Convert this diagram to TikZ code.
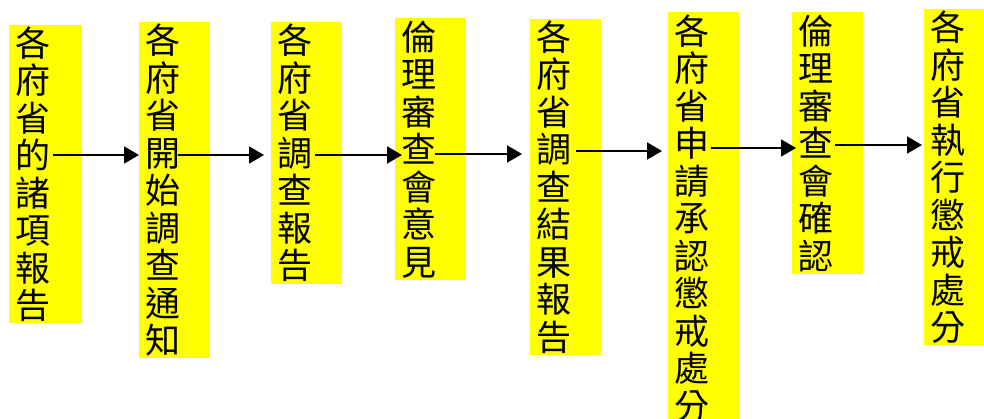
\documentclass[tikz,border=0pt]{standalone}
\usepackage{fontspec}
\newfontfamily\cjk{Noto Sans CJK TC}
\usetikzlibrary{arrows.meta}
\begin{document}
\begin{tikzpicture}[x=1pt,y=-1pt,
  box/.style={fill={rgb,255:red,255;green,255;blue,0}, anchor=north west, inner xsep=6pt, inner ysep=0pt,
    text width=59pt, align=left, font=\cjk\fontsize{35}{37.5}\selectfont},
  arr/.style={line width=1.8pt, -{Triangle[length=15pt,width=17pt]}}]
\useasboundingbox (0,0) rectangle (984,418);
\fill[white] (0,0) rectangle (984,418);
\node[box, text width=61pt, minimum height=298pt] (b1) at (9,25) {各\\府\\省\\的\\諸\\項\\報\\告};
\node[box, minimum height=336pt] (b2) at (139,22) {各\\府\\省\\開\\始\\調\\查\\通\\知};
\node[box, minimum height=262pt] (b3) at (271,22) {各\\府\\省\\調\\查\\報\\告};
\node[box, minimum height=262pt] (b4) at (395,18) {倫\\理\\審\\查\\會\\意\\見};
\node[box, minimum height=336pt] (b5) at (530,19) {各\\府\\省\\調\\查\\結\\果\\報\\告};
\node[box, minimum height=412pt] (b6) at (668,12) {各\\府\\省\\申\\請\\承\\認\\懲\\戒\\處\\分};
\node[box, minimum height=262pt] (b7) at (792,12) {倫\\理\\審\\查\\會\\確\\認};
\node[box, minimum height=336pt] (b8) at (924,9) {各\\府\\省\\執\\行\\懲\\戒\\處\\分};
\coordinate (s1) at (53,155);
\coordinate (s2) at (178,155);
\coordinate (s3) at (315,155);
\coordinate (s4) at (435,154);
\coordinate (s5) at (576,151);
\coordinate (s6) at (711,148);
\coordinate (s7) at (835,145);
\draw[arr] (s1) -- (s1 -| b2.west);
\draw[arr] (s2) -- ([xshift=-7pt]s2 -| b3.west);
\draw[arr] (s3) -- ([xshift=7pt]s3 -| b4.west);
\draw[arr] (s4) -- ([xshift=-8pt]s4 -| b5.west);
\draw[arr] (s5) -- ([xshift=-6pt]s5 -| b6.west);
\draw[arr] (s6) -- ([xshift=4pt]s6 -| b7.west);
\draw[arr] (s7) -- ([xshift=-2pt]s7 -| b8.west);
\end{tikzpicture}
\end{document}
